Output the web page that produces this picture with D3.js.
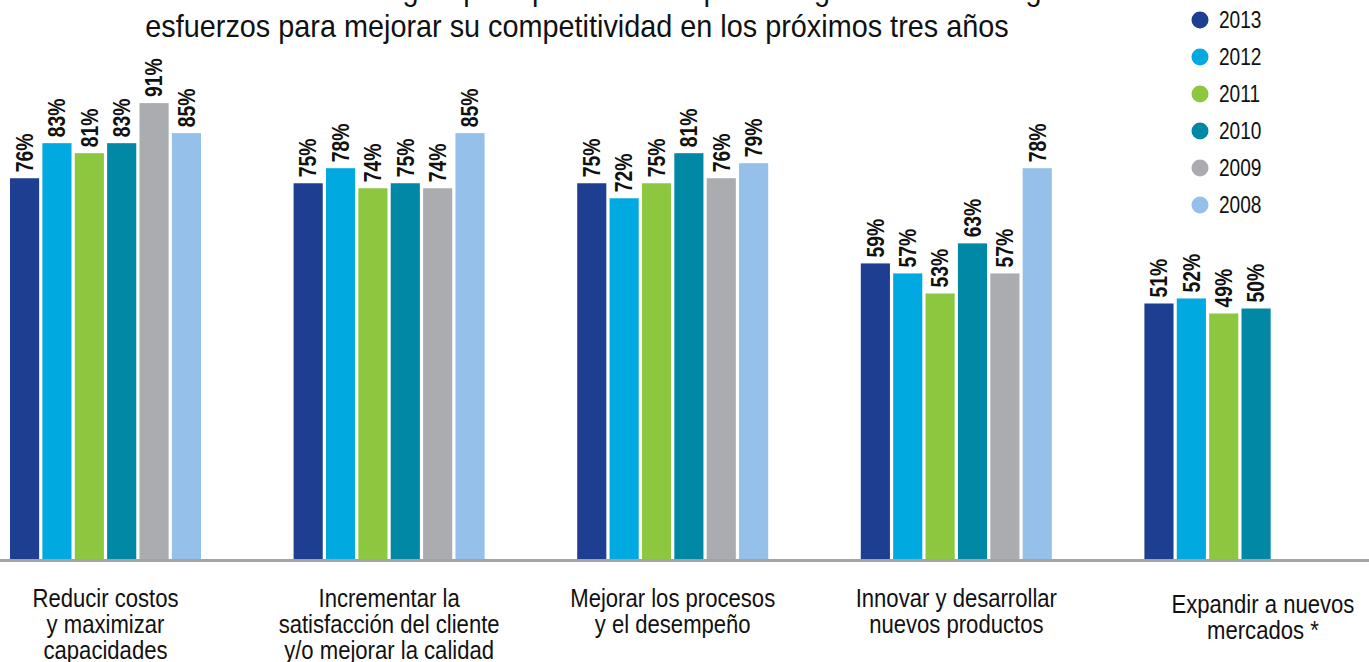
<!DOCTYPE html>
<html>
<head>
<meta charset="utf-8">
<script src="https://cdn.jsdelivr.net/npm/d3@7"></script>
<style>
  body { margin: 0; background: #fff; }
  svg { display: block; }
  text { font-family: "Liberation Sans", Arial, sans-serif; fill: #111; }
</style>
</head>
<body>
<div class="parent"></div>
<script>
// chart data
const titleLines = [
  "Seleccione una de las estrategias principales en las que su organización hará grandes",
  "esfuerzos para mejorar su competitividad en los próximos tres años"
];
const categories = ["costos", "cliente", "procesos", "productos", "mercados"];
const categoryLabels = [
  ["Reducir costos", "y maximizar", "capacidades"],
  ["Incrementar la", "satisfacción del cliente", "y/o mejorar la calidad"],
  ["Mejorar los procesos", "y el desempeño"],
  ["Innovar y desarrollar", "nuevos productos"],
  ["Expandir a nuevos", "mercados *"]
];
const years = ["2013", "2012", "2011", "2010", "2009", "2008"];
const values2013 = [76, 75, 75, 59, 51];
const values2012 = [83, 78, 72, 57, 52];
const values2011 = [81, 74, 75, 53, 49];
const values2010 = [83, 75, 81, 63, 50];
const values2009 = [91, 74, 76, 57, null];
const values2008 = [85, 85, 79, 78, null];
const colors = ["#1e3f91", "#00a9e0", "#8dc63f", "#0088a4", "#aaacaf", "#94c0e9"];

const series = [values2013, values2012, values2011, values2010, values2009, values2008];

const width = 1369, height = 662;
const svg = d3.select(".parent").append("svg")
  .attr("width", width)
  .attr("height", height);

const x0 = d3.scaleBand()
  .domain(categories)
  .range([10, 1335.4])
  .paddingInner(0.3265)
  .paddingOuter(0);

const x1 = d3.scaleBand()
  .domain(years)
  .range([0, x0.bandwidth()])
  .paddingInner(0.1)
  .paddingOuter(0);

const y = d3.scaleLinear()
  .domain([0, 100])
  .range([559, 58]);

const color = d3.scaleOrdinal().domain(years).range(colors);

const rows = [];
categories.forEach((c, i) => {
  years.forEach((yr, j) => {
    const v = series[j][i];
    if (v != null) rows.push({ cat: c, year: yr, value: v });
  });
});

// bars
svg.append("g").selectAll("rect")
  .data(rows)
  .join("rect")
  .attr("x", d => x0(d.cat) + x1(d.year))
  .attr("y", d => y(d.value))
  .attr("width", x1.bandwidth())
  .attr("height", d => y(0) - y(d.value))
  .attr("fill", d => color(d.year));

// value labels, rotated
svg.append("g").selectAll("text")
  .data(rows)
  .join("text")
  .attr("transform", d => `translate(${x0(d.cat) + x1(d.year) + x1.bandwidth() / 2},${y(d.value) - 6}) rotate(-90) scale(0.84,1)`)
  .attr("dy", "0.36em")
  .style("font-size", "23px")
  .style("font-weight", "bold")
  .text(d => d.value + "%");

// baseline
svg.append("line")
  .attr("x1", 0)
  .attr("x2", width)
  .attr("y1", y(0) + 1.5)
  .attr("y2", y(0) + 1.5)
  .attr("stroke", "#a3a3a3")
  .attr("stroke-width", 3);

// category labels
const catG = svg.append("g").selectAll("g")
  .data(categories)
  .join("g")
  .attr("transform", (d, i) => {
    const cx = x0(d) + x0.bandwidth() / 2 + (i === 4 ? 23 : 0);
    const cy = i === 4 ? 613 : 607;
    return `translate(${cx},${cy}) scale(0.85,1)`;
  });

catG.selectAll("text")
  .data((d, i) => categoryLabels[i])
  .join("text")
  .attr("y", (d, i) => i * 26)
  .attr("text-anchor", "middle")
  .style("font-size", "26px")
  .text(d => d);

// title (first line runs off the top edge)
svg.append("g").selectAll("text")
  .data(titleLines)
  .join("text")
  .attr("transform", (d, i) => `translate(577,${i === 0 ? 0 : 37}) scale(0.93,1)`)
  .attr("text-anchor", "middle")
  .style("font-size", "31px")
  .text(d => d);

// legend
const legend = svg.append("g")
  .attr("transform", "translate(1200,20)");

const ly = d3.scalePoint().domain(years).range([0, 185]);

legend.selectAll("circle")
  .data(years)
  .join("circle")
  .attr("cx", 0)
  .attr("cy", d => ly(d))
  .attr("r", 8.5)
  .attr("fill", d => color(d));

legend.selectAll("text")
  .data(years)
  .join("text")
  .attr("transform", d => `translate(19,${ly(d) + 8}) scale(0.83,1)`)
  .style("font-size", "23px")
  .text(d => d);
</script>
</body>
</html>
